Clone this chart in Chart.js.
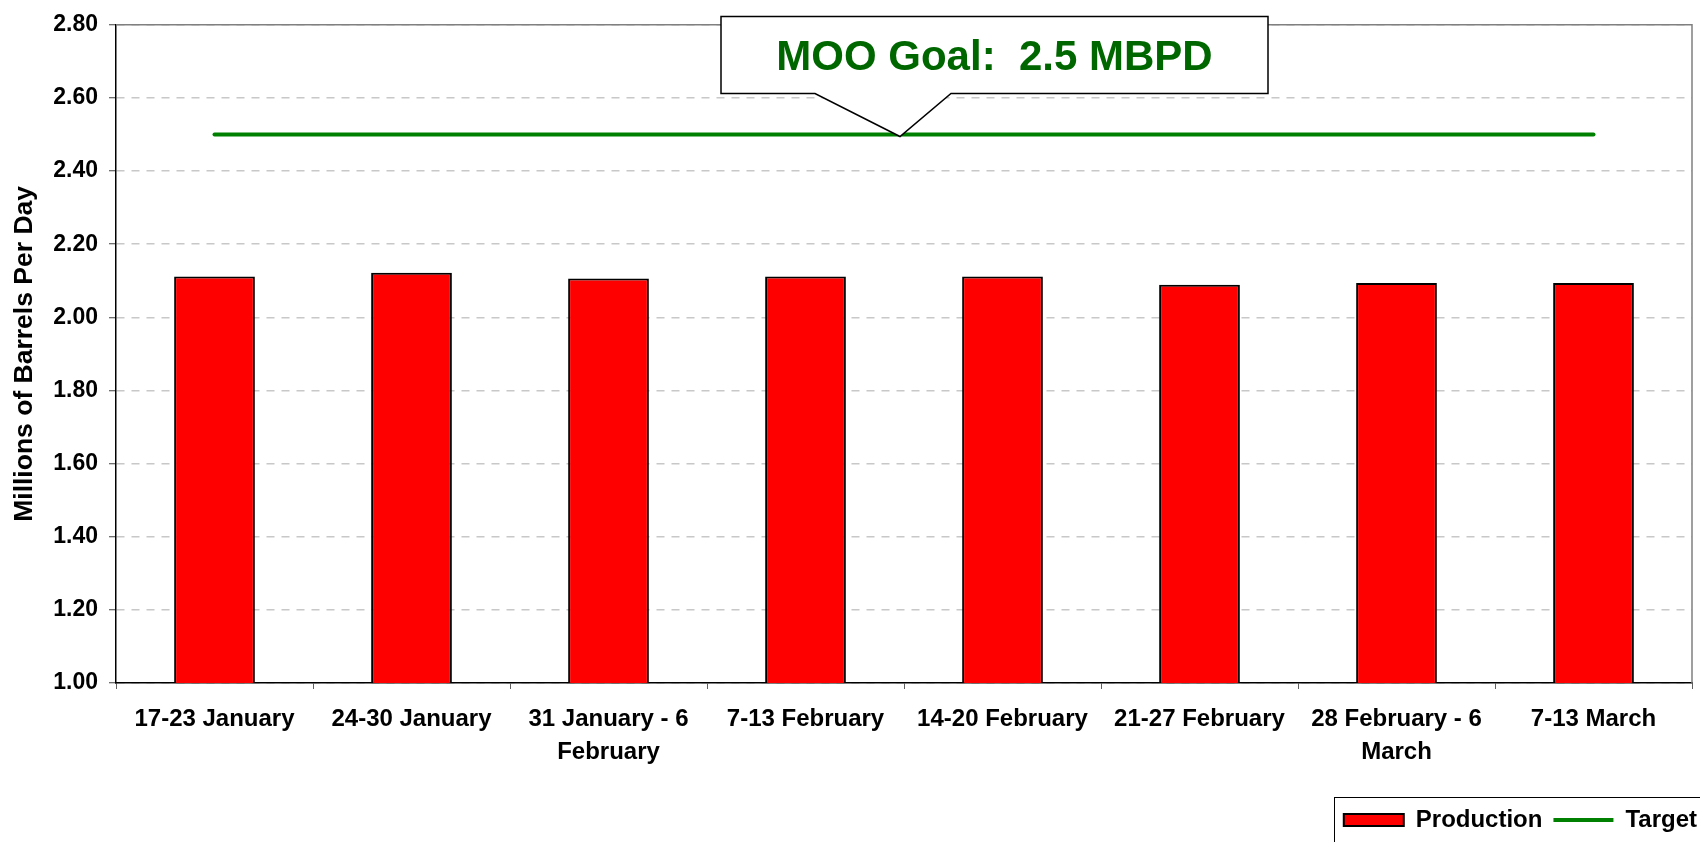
<!DOCTYPE html>
<html>
<head>
<meta charset="utf-8">
<script src="https://cdn.jsdelivr.net/npm/chart.js@4"></script>
<style>
  html, body { margin: 0; padding: 0; background: #fff; overflow: hidden; }
  #wrap { width: 1700px; height: 842px; overflow: hidden; }
</style>
</head>
<body>
<div id="wrap"><canvas id="chart" width="1708" height="842"></canvas></div>
<script>
// --- data ---
const weekLabels = [
    '17-23 January',
    '24-30 January',
    ['31 January - 6', 'February'],
    '7-13 February',
    '14-20 February',
    '21-27 February',
    ['28 February - 6', 'March'],
    '7-13 March'
];
const productionValues = [2.112, 2.122, 2.106, 2.112, 2.112, 2.089, 2.094, 2.094];
const targetValues = [2.5, 2.5, 2.5, 2.5, 2.5, 2.5, 2.5, 2.5];
const yMin = 1.0, yMax = 2.8, yStep = 0.2;
const calloutText = 'MOO Goal:  2.5 MBPD';

const FONT = '"Liberation Sans", Arial, sans-serif';

// gray frame on top / right of the plot
const plotFrame = {
    id: 'plotFrame',
    beforeDatasetsDraw(chart) {
        const { ctx, chartArea: a } = chart;
        ctx.save();
        ctx.strokeStyle = '#808080';
        ctx.lineWidth = 1.5;
        ctx.beginPath();
        ctx.moveTo(a.left, a.top);
        ctx.lineTo(a.right, a.top);
        ctx.lineTo(a.right, a.bottom);
        ctx.stroke();
        ctx.restore();
    }
};

// callout box pointing at the target line
const goalCallout = {
    id: 'goalCallout',
    afterDatasetsDraw(chart) {
        const { ctx, scales: { x, y } } = chart;
        const tipX = (x.getPixelForValue(3) + x.getPixelForValue(4)) / 2 - 4;
        const tipY = y.getPixelForValue(targetValues[0]) + 2;
        const left = tipX - 179, right = tipX + 368;
        const top = tipY - 120, bottom = tipY - 43;
        ctx.save();
        ctx.beginPath();
        ctx.moveTo(left, top);
        ctx.lineTo(right, top);
        ctx.lineTo(right, bottom);
        ctx.lineTo(tipX + 51, bottom);
        ctx.lineTo(tipX, tipY);
        ctx.lineTo(tipX - 85, bottom);
        ctx.lineTo(left, bottom);
        ctx.closePath();
        ctx.fillStyle = '#fff';
        ctx.fill();
        ctx.strokeStyle = '#000';
        ctx.lineWidth = 1.5;
        ctx.stroke();
        ctx.fillStyle = '#006600';
        ctx.font = 'bold 42px ' + FONT;
        ctx.textAlign = 'center';
        ctx.textBaseline = 'alphabetic';
        ctx.fillText(calloutText, (left + right) / 2, tipY - 67);
        ctx.restore();
    }
};

// border round the legend
const legendBox = {
    id: 'legendBox',
    afterDraw(chart) {
        const lg = chart.legend;
        if (!lg || !lg.legendHitBoxes || !lg.legendHitBoxes.length) return;
        const { ctx } = chart;
        const x0 = Math.round(lg.legendHitBoxes[0].left - 10) + 0.5;
        const y0 = Math.round(lg.top) + 0.5;
        ctx.save();
        ctx.strokeStyle = '#000';
        ctx.lineWidth = 1;
        ctx.strokeRect(x0, y0, chart.width + 20 - x0, chart.height + 20 - y0);
        ctx.restore();
    }
};

new Chart(document.getElementById('chart'), {
    type: 'bar',
    data: {
        labels: weekLabels,
        datasets: [
            {
                label: 'Production',
                data: productionValues,
                backgroundColor: '#ff0000',
                borderColor: '#000',
                borderWidth: 2,
                barPercentage: 0.41,
                categoryPercentage: 1,
                order: 2
            },
            {
                type: 'line',
                label: 'Target',
                data: targetValues,
                borderColor: '#008000',
                borderWidth: 4,
                pointRadius: 0,
                borderCapStyle: 'round',
                order: 1
            }
        ]
    },
    options: {
        responsive: false,
        animation: false,
        layout: { padding: { top: 23, right: 0, left: 0, bottom: 0 } },
        plugins: {
            tooltip: { enabled: false },
            legend: {
                position: 'bottom',
                align: 'end',
                labels: {
                    color: '#000',
                    font: { family: FONT, size: 24, weight: 'bold' },
                    usePointStyle: true,
                    pointStyleWidth: 60,
                    boxHeight: 12,
                    padding: 11,
                    sort: (a, b) => a.datasetIndex - b.datasetIndex,
                    generateLabels(chart) {
                        const items = Chart.defaults.plugins.legend.labels.generateLabels(chart);
                        for (const it of items) {
                            if (it.text === 'Production') {
                                it.pointStyle = 'rect';
                                it.fillStyle = '#ff0000';
                                it.strokeStyle = '#000';
                                it.lineWidth = 2;
                            } else {
                                it.pointStyle = 'line';
                                it.strokeStyle = '#008000';
                                it.lineWidth = 4;
                            }
                        }
                        return items;
                    }
                }
            }
        },
        scales: {
            x: {
                offset: true,
                afterFit(scale) { scale.height = 114; },
                grid: {
                    display: true,
                    drawOnChartArea: false,
                    offset: true,
                    tickLength: 6,
                    tickColor: '#606060'
                },
                border: { color: '#000', width: 1.5 },
                ticks: {
                    color: '#000',
                    padding: 14,
                    maxRotation: 0,
                    autoSkip: false,
                    font: { family: FONT, size: 24, weight: 'bold', lineHeight: 1.38 }
                }
            },
            y: {
                min: yMin,
                max: yMax,
                afterFit(scale) { scale.width = 116; },
                ticks: {
                    stepSize: yStep,
                    color: '#000',
                    padding: 11,
                    font: { family: FONT, size: 23, weight: 'bold' },
                    callback: v => Number(v).toFixed(2)
                },
                grid: {
                    color: '#c8c8c8',
                    lineWidth: 1.5,
                    tickLength: 7,
                    tickColor: '#404040',
                    tickWidth: 1
                },
                border: { color: '#000', width: 1.5, dash: [8, 7] },
                title: {
                    display: true,
                    text: 'Millions of Barrels Per Day',
                    color: '#000',
                    font: { family: FONT, size: 26.5, weight: 'bold' },
                    padding: { top: 9, bottom: 0 }
                }
            },
            // empty right-hand strip so the plot stops short of the canvas edge
            rightGap: {
                type: 'linear',
                position: 'right',
                display: true,
                afterFit(scale) { scale.width = 16; },
                grid: { display: false, drawTicks: false },
                border: { display: false },
                ticks: { display: false }
            }
        }
    },
    plugins: [plotFrame, goalCallout, legendBox]
});
</script>
</body>
</html>
